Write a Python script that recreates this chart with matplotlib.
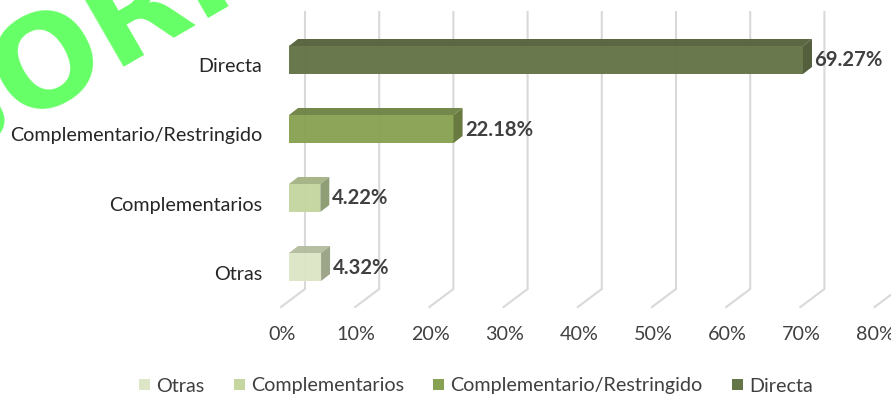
import matplotlib
matplotlib.use("Agg")
import matplotlib.pyplot as plt
from matplotlib.patches import Polygon, Patch

categories = ["Otras", "Complementarios", "Complementario/Restringido", "Directa"]
values = [4.32, 4.22, 22.18, 69.27]
labels = ["4.32%", "4.22%", "22.18%", "69.27%"]
x_ticks = [0, 10, 20, 30, 40, 50, 60, 70, 80]
front_colors = ["#DCE6C6", "#C5D6A0", "#88A253", "#647547"]
top_colors = ["#B4BD9F", "#A5B385", "#6F8446", "#56633D"]
side_colors = ["#9BA386", "#8D9B71", "#637639", "#4E5A36"]

W, H = 891, 395
PX_X = 7.42   # pixels per percent
PX_Y = 69.0   # pixels per category
X0_PX = 289.0
Y0_PX = 267.0

fig = plt.figure(figsize=(W / 100, H / 100), dpi=100)
plt.rcParams["font.family"] = ["Lato", "DejaVu Sans"]
ax = fig.add_axes([0, 0, 1, 1])
ax.set_xlim(-X0_PX / PX_X, (W - X0_PX) / PX_X)
ax.set_ylim(Y0_PX / PX_Y - H / PX_Y, Y0_PX / PX_Y)
ax.axis("off")

dx = lambda p: p / PX_X
dy = lambda p: p / PX_Y

# watermark, cut by the figure edge
ax.text(dx(-289 - 64), dy(267 - 168), "BORRADOR", rotation=30, rotation_mode="anchor",
        ha="left", va="baseline", color="#66FF66", fontsize=91, fontweight="bold",
        family="DejaVu Sans", zorder=1)

# floor and back wall gridlines
wall_top, wall_bottom = dy(267 - 12), dy(267 - 289)
for t in x_ticks:
    ax.plot([t + dx(16), t + dx(16), t - dx(8)],
            [wall_top, wall_bottom, wall_bottom - dy(18)],
            color="#D9D9D9", lw=1.5, zorder=2, clip_on=True, solid_joinstyle="miter")
    ax.text(t - dx(7), dy(267 - 335), f"{t}%", ha="center", va="center",
            color="#404040", fontsize=14.2, zorder=5)

# 3-D bars
bar_h = 28 / PX_Y
ox, oy = dx(9), dy(7)
for i, (cat, v, lab) in enumerate(zip(categories, values, labels)):
    b, t = i - bar_h / 2, i + bar_h / 2
    ax.add_patch(Polygon([(0, b), (v, b), (v, t), (0, t)], fc=front_colors[i], ec="none", alpha=0.97, zorder=4))
    ax.add_patch(Polygon([(0, t), (v, t), (v + ox, t + oy), (ox, t + oy)], fc=top_colors[i], ec="none", alpha=0.97, zorder=4))
    ax.add_patch(Polygon([(v, b), (v + ox, b + oy), (v + ox, t + oy), (v, t)], fc=side_colors[i], ec="none", alpha=0.97, zorder=4))
    ax.text(v + dx(11.5), i - dy(0.5), lab, ha="left", va="center", color="#404040",
            fontsize=14.6, fontweight="bold", zorder=5)
    ax.text(-dx(26.5), i - dy(7), cat, ha="right", va="center", color="#262626",
            fontsize=14.2, zorder=5)

handles = [Patch(fc=c, ec="none", label=n) for c, n in zip(front_colors, categories)]
leg = ax.legend(handles=handles, ncol=4, loc="center", bbox_to_anchor=(476 / W, 1 - 386 / H),
                frameon=False, fontsize=14.2, handlelength=0.55, handleheight=0.55,
                handletextpad=0.3, columnspacing=1.5, labelcolor="#404040", borderpad=0)
fig.savefig("out.png", dpi=100)
